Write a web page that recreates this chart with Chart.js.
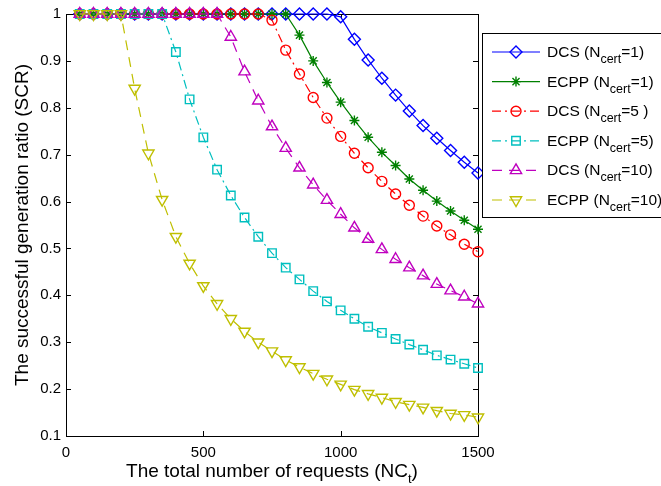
<!DOCTYPE html>
<html>
<head>
<meta charset="utf-8">
<script src="https://cdn.jsdelivr.net/npm/chart.js@4"></script>
<style>
  body { margin: 0; background: #fff; }
  #wrap { width: 661px; height: 486px; }
</style>
</head>
<body>
<div id="wrap"><canvas id="chart" width="661" height="486"></canvas></div>
<script>
// SCR vs total number of requests

const xValues = [50, 100, 150, 200, 250, 300, 350, 400, 450, 500, 550, 600, 650, 700, 750,
  800, 850, 900, 950, 1000, 1050, 1100, 1150, 1200, 1250, 1300, 1350, 1400, 1450, 1500];

const dcs1 = [1, 1, 1, 1, 1, 1, 1, 1, 1, 1, 1, 1, 1, 1, 1, 1, 1, 1, 1,
  0.994, 0.946, 0.902, 0.863, 0.827, 0.793, 0.762, 0.735, 0.709, 0.684, 0.661];
const ecpp1 = [1, 1, 1, 1, 1, 1, 1, 1, 1, 1, 1, 1, 1, 1, 1, 1,
  0.955, 0.900, 0.854, 0.812, 0.773, 0.737, 0.705, 0.677, 0.648, 0.624, 0.601, 0.580, 0.560, 0.541];
const dcs5 = [1, 1, 1, 1, 1, 1, 1, 1, 1, 1, 1, 1, 1, 1,
  0.987, 0.923, 0.872, 0.822, 0.778, 0.739, 0.703, 0.672, 0.643, 0.616, 0.592, 0.569, 0.548, 0.529, 0.509, 0.493];
const ecpp5 = [1, 1, 1, 1, 1, 1, 1,
  0.919, 0.818, 0.737, 0.668, 0.613, 0.566, 0.525, 0.490, 0.459, 0.434, 0.409, 0.387, 0.368,
  0.350, 0.333, 0.320, 0.307, 0.295, 0.284, 0.272, 0.263, 0.254, 0.245];
const dcs10 = [1, 1, 1, 1, 1, 1, 1, 1, 1, 1, 1,
  0.951, 0.877, 0.815, 0.760, 0.714, 0.672, 0.636, 0.603, 0.573, 0.544, 0.520, 0.498, 0.477,
  0.459, 0.442, 0.424, 0.410, 0.397, 0.382];
const ecpp10 = [1, 1, 1, 1,
  0.841, 0.703, 0.604, 0.525, 0.468, 0.420, 0.382, 0.350, 0.323, 0.300, 0.281, 0.262, 0.247,
  0.233, 0.221, 0.210, 0.199, 0.190, 0.182, 0.173, 0.167, 0.161, 0.154, 0.148, 0.145, 0.140];

const xTicks = [0, 500, 1000, 1500];
const yTicks = [0.1, 0.2, 0.3, 0.4, 0.5, 0.6, 0.7, 0.8, 0.9, 1];

// legend text: name, subscript, rest
const seriesNames = ['DCS (N', 'ECPP (N', 'DCS (N', 'ECPP (N', 'DCS (N', 'ECPP (N'];
const seriesSub = ['cert', 'cert', 'cert', 'cert', 'cert', 'cert'];
const seriesTail = ['=1)', '=1)', '=5 )', '=5)', '=10)', '=10)'];

const FONT = '"Liberation Sans", Arial, Helvetica, sans-serif';
const dashDot = [9, 4, 2, 4];
const dashed = [10, 7];

const styles = [
  { color: '#0000ff', dash: [], point: 'rectRot', r: 6, rot: 0 },
  { color: '#008000', dash: [], point: 'star', r: 5, rot: 0 },
  { color: '#ff0000', dash: dashDot, point: 'circle', r: 5, rot: 0 },
  { color: '#00bfbf', dash: dashDot, point: 'rect', r: 6, rot: 0 },
  { color: '#bf00bf', dash: dashed, point: 'triangle', r: 6.5, rot: 0 },
  { color: '#bfbf00', dash: dashed, point: 'triangle', r: 6.5, rot: 180 }
];

const allSeries = [dcs1, ecpp1, dcs5, ecpp5, dcs10, ecpp10];

const datasets = allSeries.map((arr, i) => {
  const s = styles[i];
  return {
    label: seriesNames[i] + seriesSub[i] + seriesTail[i],
    data: xValues.map((x, j) => ({ x, y: arr[j] })),
    borderColor: s.color,
    backgroundColor: 'transparent',
    borderWidth: 1.2,
    borderDash: s.dash,
    pointStyle: s.point,
    pointRadius: s.r,
    pointRotation: s.rot,
    pointBorderColor: s.color,
    pointBackgroundColor: 'transparent',
    pointBorderWidth: 1.4,
    tension: 0,
    clip: false,
    order: allSeries.length - i
  };
});

const frame = {
  id: 'frame',
  beforeDatasetsDraw(chart) {
    const { ctx, chartArea: a, scales } = chart;
    ctx.save();
    ctx.strokeStyle = '#000';
    ctx.lineWidth = 1;
    ctx.strokeRect(a.left + 0.5, a.top + 0.5, a.right - a.left, a.bottom - a.top);
    ctx.beginPath();
    xTicks.forEach(v => {
      const x = Math.round(scales.x.getPixelForValue(v)) + 0.5;
      ctx.moveTo(x, a.bottom); ctx.lineTo(x, a.bottom - 5);
      ctx.moveTo(x, a.top); ctx.lineTo(x, a.top + 5);
    });
    yTicks.forEach(v => {
      const y = Math.round(scales.y.getPixelForValue(v)) + 0.5;
      ctx.moveTo(a.left, y); ctx.lineTo(a.left + 5, y);
      ctx.moveTo(a.right, y); ctx.lineTo(a.right - 5, y);
    });
    ctx.stroke();
    ctx.restore();
  },
  afterDraw(chart) {
    const { ctx, chartArea: a } = chart;
    ctx.save();
    ctx.fillStyle = '#000';
    // x title with subscript
    const main = 'The total number of requests (NC';
    ctx.font = '19px ' + FONT;
    const w1 = ctx.measureText(main).width;
    ctx.font = '13px ' + FONT;
    const w2 = ctx.measureText('t').width;
    ctx.font = '19px ' + FONT;
    const w3 = ctx.measureText(')').width;
    let x = (a.left + a.right) / 2 - (w1 + w2 + w3) / 2;
    ctx.textBaseline = 'alphabetic';
    ctx.fillText(main, x, 477);
    ctx.font = '13px ' + FONT;
    ctx.fillText('t', x + w1, 483);
    ctx.font = '19px ' + FONT;
    ctx.fillText(')', x + w1 + w2, 477);
    // y title
    ctx.translate(28, (a.top + a.bottom) / 2);
    ctx.rotate(-Math.PI / 2);
    ctx.textAlign = 'center';
    ctx.fillText('The successful generation ratio (SCR)', 0, 0);
    ctx.restore();

    // legend
    ctx.save();
    ctx.fillStyle = '#fff';
    ctx.fillRect(482, 33, 185, 184);
    ctx.strokeStyle = '#000';
    ctx.lineWidth = 1;
    ctx.strokeRect(482.5, 33.5, 185, 184);
    chart.data.datasets.forEach((ds, i) => {
      const yy = 52 + i * 29.6;
      ctx.strokeStyle = ds.borderColor;
      ctx.lineWidth = ds.borderWidth;
      ctx.setLineDash(ds.borderDash);
      ctx.beginPath();
      ctx.moveTo(492, yy); ctx.lineTo(540, yy);
      ctx.stroke();
      ctx.setLineDash([]);
      ctx.lineWidth = ds.pointBorderWidth;
      ctx.fillStyle = 'transparent';
      Chart.helpers.drawPoint(ctx, {
        pointStyle: ds.pointStyle, radius: ds.pointRadius,
        rotation: ds.pointRotation, borderWidth: ds.pointBorderWidth
      }, 516, yy);
      ctx.fillStyle = '#000';
      ctx.font = '15.5px ' + FONT;
      ctx.textBaseline = 'alphabetic';
      let tx = 547;
      ctx.fillText(seriesNames[i], tx, yy + 5);
      tx += ctx.measureText(seriesNames[i]).width;
      ctx.font = '12.5px ' + FONT;
      ctx.fillText(seriesSub[i], tx, yy + 11);
      tx += ctx.measureText(seriesSub[i]).width;
      ctx.font = '15.5px ' + FONT;
      ctx.fillText(seriesTail[i], tx, yy + 5);
    });
    ctx.restore();
  }
};

new Chart(document.getElementById('chart'), {
  type: 'line',
  data: { datasets },
  options: {
    responsive: false,
    animation: false,
    layout: { padding: { left: 0, top: 12, right: 183, bottom: 0 } },
    plugins: { legend: { display: false }, tooltip: { enabled: false } },
    scales: {
      x: {
        type: 'linear', min: 0, max: 1500,
        afterFit: s => { s.height = 50; },
        afterBuildTicks: s => { s.ticks = xTicks.map(v => ({ value: v })); },
        grid: { display: false, drawTicks: false },
        border: { display: false },
        ticks: { color: '#000', font: { size: 15, family: FONT }, padding: 8, maxRotation: 0,
          callback: v => String(v) }
      },
      y: {
        type: 'linear', min: 0.1, max: 1,
        afterFit: s => { s.width = 66; },
        afterBuildTicks: s => { s.ticks = yTicks.map(v => ({ value: v })); },
        grid: { display: false, drawTicks: false },
        border: { display: false },
        ticks: { color: '#000', font: { size: 15, family: FONT }, padding: 5,
          callback: v => String(+v.toFixed(1)) }
      }
    }
  },
  plugins: [frame]
});
</script>
</body>
</html>
